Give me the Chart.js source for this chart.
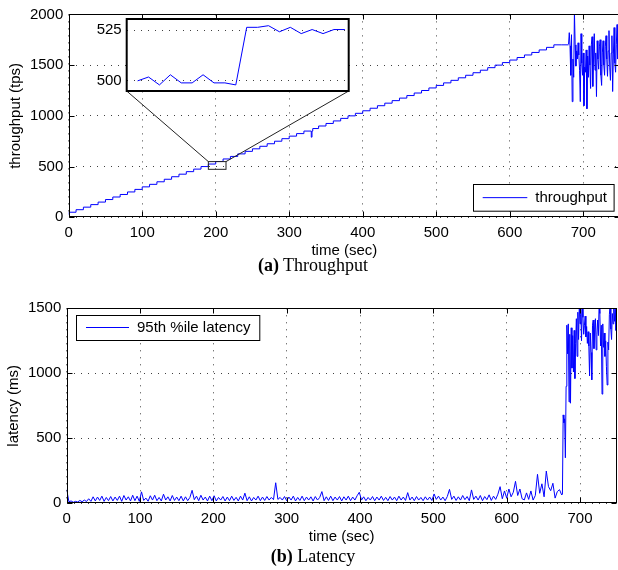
<!DOCTYPE html>
<html>
<head>
<meta charset="utf-8">
<script src="https://cdn.jsdelivr.net/npm/chart.js@4.4.1/dist/chart.umd.min.js"></script>
<style>
  html, body { margin: 0; padding: 0; background: #fff; overflow: hidden; width: 618px; height: 570px; }
  canvas { position: absolute; }
  .caption {
    position: absolute; white-space: nowrap; transform: translateX(-50%);
    font-family: "Liberation Serif", "Times New Roman", serif; font-size: 18px; line-height: 18px; color: #000;
  }
</style>
</head>
<body>
<canvas id="myChart" width="630" height="285" style="left:0;top:0;width:630px;height:285px"></canvas>
<canvas id="myChart2" width="265" height="100" style="left:90px;top:5px;width:265px;height:100px"></canvas>
<canvas id="myChart3" width="630" height="285" style="left:0;top:285px;width:630px;height:285px"></canvas>
<div class="caption" style="left:313px;top:255.6px"><b>(a)</b> Throughput</div>
<div class="caption" style="left:313px;top:547px"><b>(b)</b> Latency</div>

<script>
// tick labels
const timeTicks = [0, 100, 200, 300, 400, 500, 600, 700];
const throughputTicks = [0, 500, 1000, 1500, 2000];
const latencyTicks = [0, 500, 1000, 1500];
const insetTicks = [500, 525];

// throughput staircase, one level every 10 sec from t=0 to t=680
const stepEvery = 10;
const throughputSteps = [
  25, 50, 75, 100, 125, 150, 175, 200, 225, 250,
  275, 300, 325, 350, 375, 400, 425, 450, 475, 500,
  525, 550, 575, 600, 625, 650, 675, 700, 725, 750,
  775, 800, 825, 850, 875, 900, 925, 950, 975, 1000,
  1025, 1050, 1075, 1100, 1125, 1150, 1175, 1200, 1225, 1250,
  1275, 1300, 1325, 1350, 1375, 1400, 1425, 1450, 1475, 1500,
  1525, 1550, 1575, 1600, 1625, 1650, 1675, 1700, 1700
];
const throughputDips = [[331, 790], [332, 850]];

// overloaded throughput, 1 per sec from t=680
const overloadStart = 680;
const throughputOverload = [
  1705, 1820, 1690, 1400, 1800, 1140, 1560, 1380, 2030, 1700,
  1490, 1640, 1560, 1720, 1600, 1450, 1140, 1810, 1520, 1400,
  1620, 1100, 1480, 1430, 1650, 1070, 1590, 1380, 1690, 1500,
  1270, 1700, 1780, 1290, 1560, 1810, 1450, 1620, 1190, 1740,
  1560, 1460, 1680, 1750, 1400, 1300, 1620, 1740, 1500, 1400,
  1680, 1790, 1560, 1390, 1640, 1840, 1480, 1350, 1620, 1790,
  1240, 1600, 1870, 1520, 1430, 1700, 1900, 1560, 1620, 1480, 1650
];

// zoomed window (1 per sec, t=191..210)
const insetStart = 191;
const insetValues = [
  500, 501.9, 498, 503, 499, 499, 503, 499, 499, 498,
  526.4, 526.4, 527.2, 524.2, 526.4, 523.3, 525.3, 523.3, 525.3, 525.3
];
const zoomBox = { x0: 190, x1: 214, y0: 473, y1: 549 };

// 95th percentile latency: every 3 sec up to t=675, then every sec
const latencyLowEvery = 3;
const latencyLow = [
  105, 12, 18, 8, 15, 10, 22, 12, 25, 14,
  35, 15, 50, 18, 48, 22, 55, 15, 45, 20,
  52, 18, 48, 22, 55, 15, 60, 25, 50, 18,
  62, 20, 55, 15, 88, 22, 40, 16, 58, 25,
  62, 20, 45, 18, 70, 25, 50, 18, 60, 22,
  48, 20, 55, 18, 50, 20, 45, 100, 28, 55,
  20, 62, 25, 48, 18, 55, 20, 58, 18, 45,
  25, 52, 18, 48, 20, 55, 22, 46, 18, 55,
  25, 78, 20, 50, 18, 45, 25, 55, 20, 48,
  22, 52, 25, 45, 28, 158, 30, 45, 25, 52,
  20, 48, 25, 55, 18, 45, 22, 55, 20, 48,
  25, 50, 18, 52, 25, 45, 90, 20, 50, 22,
  55, 20, 48, 25, 52, 18, 50, 25, 55, 20,
  48, 25, 58, 85, 25, 50, 20, 45, 25, 52,
  20, 48, 25, 55, 22, 46, 20, 52, 25, 48,
  20, 55, 25, 48, 22, 82, 25, 48, 20, 52,
  25, 45, 20, 50, 25, 48, 22, 72, 30, 55,
  25, 48, 20, 52, 107, 30, 55, 22, 50, 25,
  60, 28, 52, 20, 103, 30, 55, 25, 60, 20,
  52, 28, 65, 22, 55, 30, 70, 128, 35, 95,
  40, 110, 50, 85, 169, 60, 110, 35, 26, 80,
  30, 95, 25, 60, 223, 77, 150, 50, 248, 128,
  97, 154, 40, 90, 105, 64
];
const latencyHighStart = 676;
const latencyHigh = [
  70, 680, 620, 650, 350, 900, 1370, 1150, 1380, 780,
  1300, 770, 1350, 1040, 1290, 1010, 1330, 960, 1230, 1420,
  1130, 1470, 1260, 1520, 1380, 1510, 1250, 1530, 1430, 1300,
  1370, 1440, 1280, 1360, 1230, 1320, 1210, 980, 1310, 1160,
  950, 1370, 1410, 1190, 1340, 1420, 1180, 1300, 1410, 1290,
  1520, 1460, 1210, 1370, 840, 1380, 1200, 1310, 1130, 1250,
  1050, 910, 1240, 1180, 1450, 1530, 1340, 1260, 1460, 1380,
  1520, 1400, 1510, 1330, 1400
];


const blue = "#0000ff";
const sansFont = { family: '"Liberation Sans", Arial, Helvetica, sans-serif', size: 15 };
Chart.defaults.font.family = sansFont.family;
Chart.defaults.font.size = 15;
Chart.defaults.color = "#000";

let stairPoints = throughputSteps.map((v, i) => ({ x: i * stepEvery, y: v }));
throughputDips.forEach(d => stairPoints.push({ x: d[0], y: d[1] }));
stairPoints.sort((a, b) => a.x - b.x);
const overloadPoints = throughputOverload.map((v, i) => ({ x: overloadStart + i, y: v }));
const insetPoints = insetValues.map((v, i) => ({ x: insetStart + i, y: v }));
const latencyPoints = latencyLow.map((v, i) => ({ x: i * latencyLowEvery, y: v }))
  .concat(latencyHigh.map((v, i) => ({ x: latencyHighStart + i, y: v })));

const setTicks = (list) => (scale) => { scale.ticks = list.map(v => ({ value: v })); };

// matlab style box, inward ticks and boxed legend
const framePlugin = {
  id: "frame",
  afterDraw(chart, args, opts) {
    const { ctx, chartArea: a, scales } = chart;
    const L = Math.round(a.left) + 0.5, R = Math.round(a.right) - 0.5;
    const T = Math.round(a.top) + 0.5, B = Math.round(a.bottom) - 0.5;
    ctx.save();
    ctx.strokeStyle = "#000";
    ctx.lineWidth = 1;
    ctx.beginPath();
    scales.x.ticks.forEach(t => {
      const px = Math.round(scales.x.getPixelForValue(t.value)) + 0.5;
      ctx.moveTo(px, B); ctx.lineTo(px, B - 5);
      ctx.moveTo(px, T); ctx.lineTo(px, T + 5);
    });
    scales.y.ticks.forEach(t => {
      const py = Math.round(scales.y.getPixelForValue(t.value)) + 0.5;
      ctx.moveTo(L, py); ctx.lineTo(L + 5, py);
      ctx.moveTo(R, py); ctx.lineTo(R - 5, py);
    });
    ctx.stroke();
    ctx.strokeRect(L, T, R - L, B - T);

    if (opts.legend) {
      const g = opts.legend;
      ctx.fillStyle = "#fff";
      ctx.fillRect(g.left, g.top, g.width, g.height);
      ctx.strokeRect(Math.round(g.left) + 0.5, Math.round(g.top) + 0.5, g.width, g.height);
      const my = g.top + g.height / 2;
      ctx.strokeStyle = blue;
      ctx.beginPath();
      ctx.moveTo(g.left + 10, my); ctx.lineTo(g.left + 10 + g.sample, my);
      ctx.stroke();
      ctx.fillStyle = "#000";
      ctx.font = "15px " + sansFont.family;
      ctx.textBaseline = "middle";
      ctx.fillText(chart.data.datasets[0].label, g.left + 18 + g.sample, my + 0.5);
    }
    ctx.restore();
  }
};

// zoom rectangle and the two lines to the inset
let insetChart;
const zoomPlugin = {
  id: "zoomLines",
  afterDraw(chart) {
    if (!insetChart) return;
    const { ctx, scales: { x, y } } = chart;
    const x0 = x.getPixelForValue(zoomBox.x0), x1 = x.getPixelForValue(zoomBox.x1);
    const y0 = y.getPixelForValue(zoomBox.y0), y1 = y.getPixelForValue(zoomBox.y1);
    const ia = insetChart.chartArea;
    const offX = 90, offY = 5;
    ctx.save();
    ctx.strokeStyle = "#222";
    ctx.lineWidth = 1;
    ctx.strokeRect(x0, y1, x1 - x0, y0 - y1);
    ctx.beginPath();
    ctx.moveTo(ia.left + offX, ia.bottom + offY); ctx.lineTo(x0, y1);
    ctx.moveTo(ia.right + offX, ia.bottom + offY); ctx.lineTo(x1, y1);
    ctx.stroke();
    ctx.restore();
  }
};

const insetFrame = {
  id: "insetFrame",
  beforeDraw(chart) {
    const { ctx, chartArea: a } = chart;
    ctx.save();
    ctx.fillStyle = "#fff";
    ctx.fillRect(a.left, a.top, a.right - a.left, a.bottom - a.top);
    ctx.restore();
  },
  afterDraw(chart) {
    const { ctx, chartArea: a } = chart;
    ctx.save();
    ctx.strokeStyle = "#000";
    ctx.lineWidth = 2;
    ctx.strokeRect(a.left, a.top, a.right - a.left, a.bottom - a.top);
    ctx.restore();
  }
};

function axisX(height, titlePad) {
  return {
    type: "linear", min: 0, max: 750,
    afterBuildTicks: setTicks(timeTicks),
    afterFit: s => { s.height = height; },
    ticks: { padding: 7, autoSkip: false, maxRotation: 0, callback: v => String(v) },
    grid: { color: "rgba(0,0,0,0.75)", lineWidth: 1, drawTicks: false },
    border: { display: false, dash: [1, 6] },
    title: { display: true, text: "time (sec)", padding: { top: 0, bottom: titlePad } }
  };
}
function axisY(max, list, width, label, titlePad) {
  return {
    min: 0, max: max,
    afterBuildTicks: setTicks(list),
    afterFit: s => { s.width = width; },
    ticks: { padding: 5.4, callback: v => String(v) },
    grid: { color: "rgba(0,0,0,0.75)", lineWidth: 1, drawTicks: false },
    border: { display: false, dash: [1, 6] },
    title: { display: true, text: label, padding: { top: titlePad, bottom: 0 } }
  };
}

insetChart = new Chart(document.getElementById("myChart2"), {
  type: "line",
  data: {
    datasets: [{ label: "throughput", data: insetPoints, borderColor: blue, borderWidth: 1, pointRadius: 0, tension: 0 }]
  },
  options: {
    responsive: false, animation: false, devicePixelRatio: 1,
    layout: { padding: { left: 0, top: 12.3, right: 6.3, bottom: 12.3 } },
    plugins: { legend: { display: false }, tooltip: { enabled: false } },
    scales: {
      x: { type: "linear", min: 190, max: 210.35, display: false },
      y: {
        min: 495, max: 530.5,
        afterBuildTicks: setTicks(insetTicks),
        afterFit: s => { s.width = 36.7; },
        ticks: { padding: 5, callback: v => String(v) },
        grid: { color: "rgba(0,0,0,0.75)", lineWidth: 1, drawTicks: false },
        border: { display: false, dash: [1, 6] }
      }
    }
  },
  plugins: [insetFrame]
});

new Chart(document.getElementById("myChart"), {
  type: "line",
  data: {
    datasets: [
      { label: "throughput", data: stairPoints, stepped: "after", borderColor: blue, borderWidth: 1, pointRadius: 0 },
      { label: "throughput (overload)", data: overloadPoints, borderColor: blue, borderWidth: 1, pointRadius: 0, tension: 0 }
    ]
  },
  options: {
    responsive: false, animation: false, devicePixelRatio: 1,
    layout: { padding: { left: 0, top: 13.3, right: 10, bottom: 0 } },
    plugins: {
      legend: { display: false }, tooltip: { enabled: false },
      frame: { legend: { left: 472.7, top: 184.3, width: 140.6, height: 26.7, sample: 44.6 } }
    },
    scales: {
      x: axisX(67.7, 25),
      y: axisY(2000, throughputTicks, 68.7, "throughput (tps)", 7)
    }
  },
  plugins: [framePlugin, zoomPlugin]
});

new Chart(document.getElementById("myChart3"), {
  type: "line",
  data: {
    datasets: [
      { label: "95th %ile latency", data: latencyPoints, borderColor: blue, borderWidth: 1, pointRadius: 0, tension: 0 }
    ]
  },
  options: {
    responsive: false, animation: false, devicePixelRatio: 1,
    layout: { padding: { left: 0, top: 23.3, right: 13.3, bottom: 0 } },
    plugins: {
      legend: { display: false }, tooltip: { enabled: false },
      frame: { legend: { left: 76, top: 30, width: 183.3, height: 25, sample: 43 } }
    },
    scales: {
      x: axisX(66.7, 24),
      y: axisY(1500, latencyTicks, 66.7, "latency (ms)", 5.2)
    }
  },
  plugins: [framePlugin]
});
</script>
</body>
</html>
